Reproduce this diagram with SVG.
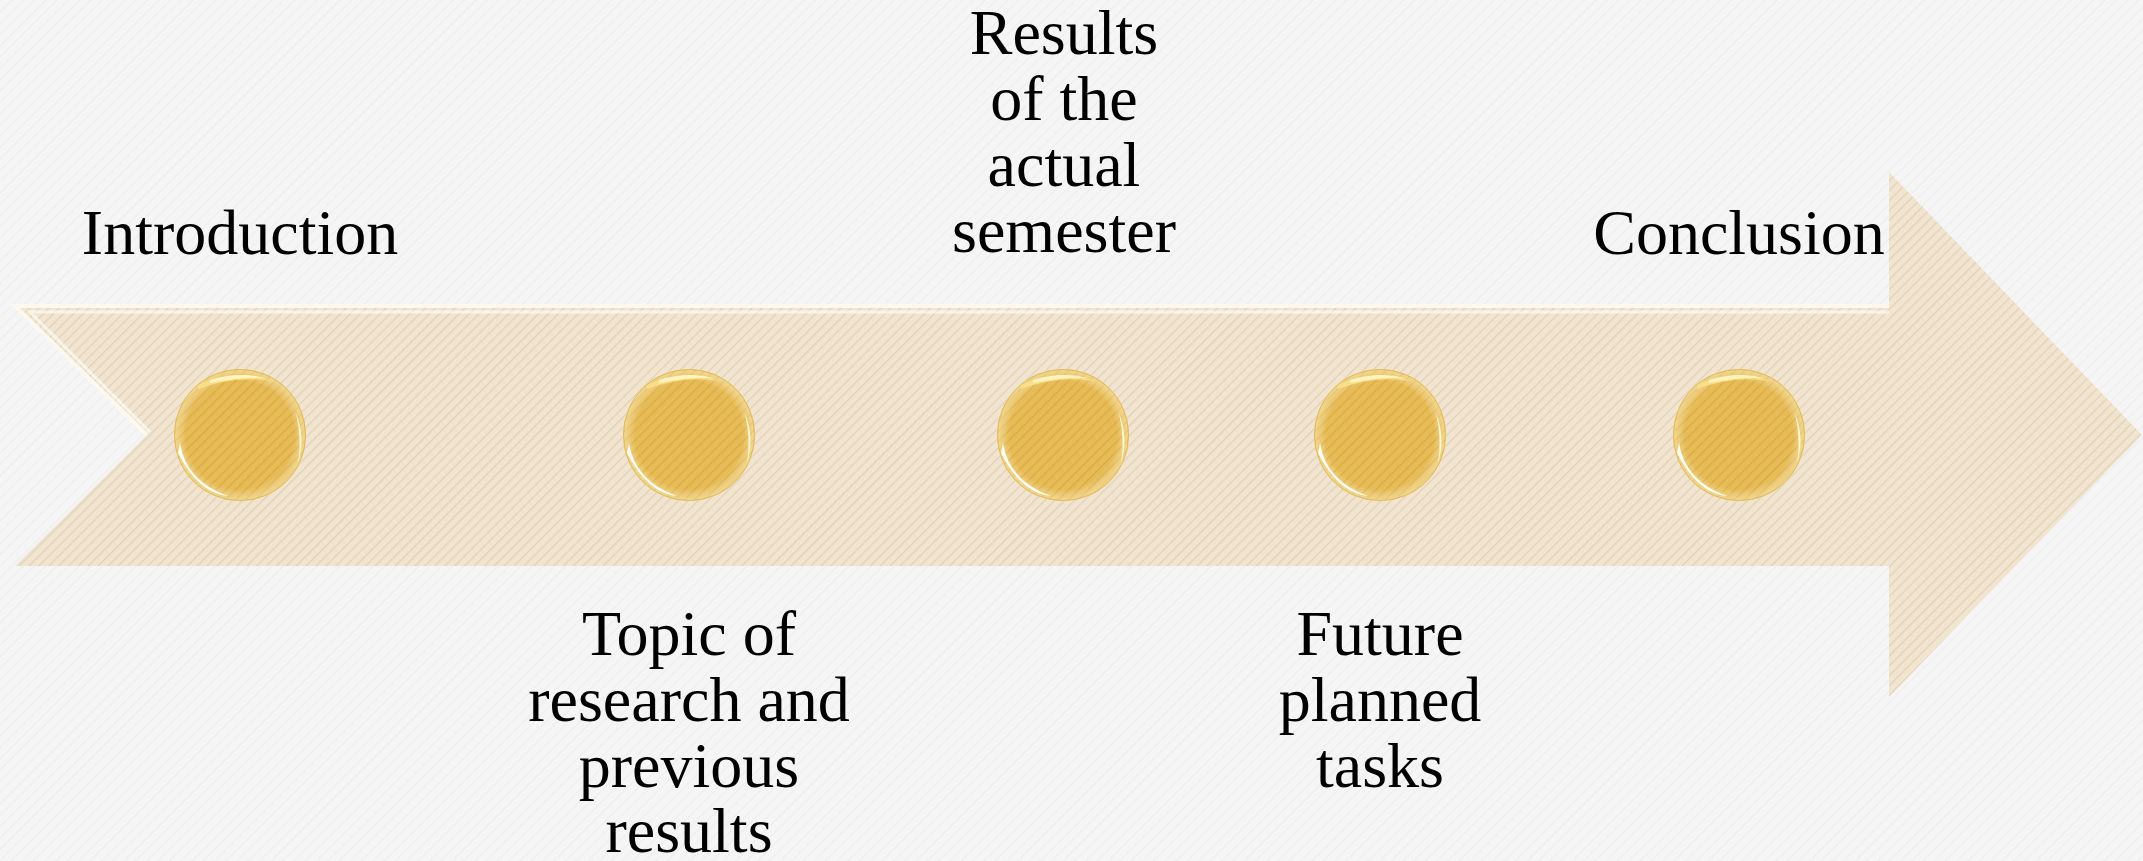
<svg xmlns="http://www.w3.org/2000/svg" width="2143" height="861" viewBox="0 0 2143 861">
<defs>
<pattern id="bgtex" width="8" height="8" patternUnits="userSpaceOnUse" patternTransform="rotate(45)">
<rect width="8" height="8" fill="#f5f5f5"/>
<line x1="0" y1="0" x2="0" y2="8" stroke="#ededed" stroke-width="2"/>
</pattern>
<pattern id="stripes" width="7" height="7" patternUnits="userSpaceOnUse" patternTransform="rotate(45)">
<rect width="7" height="7" fill="#f1e5d1"/>
<line x1="0" y1="0" x2="0" y2="7" stroke="#e2d0b1" stroke-width="2.5"/>
</pattern>
<pattern id="goldstripes" width="7" height="7" patternUnits="userSpaceOnUse" patternTransform="rotate(45)">
<rect width="7" height="7" fill="#e7bc56"/>
<line x1="0" y1="0" x2="0" y2="7" stroke="#d8a944" stroke-width="2.5"/>
</pattern>
<radialGradient id="shine" cx="0.5" cy="0.5" r="0.5">
<stop offset="0.82" stop-color="#ffffff" stop-opacity="0"/>
<stop offset="1" stop-color="#fff6c8" stop-opacity="0.5"/>
</radialGradient>
<g id="bead">
<circle r="66" fill="url(#goldstripes)"/>
<circle r="66" fill="url(#shine)"/>
<path d="M -42 -50 Q -5 -68 32 -54 Q -5 -60 -42 -46 Z" fill="#fbe08a" opacity="0.9"/>
<path d="M -30 -55 Q 0 -64 25 -57 Q 0 -58 -30 -52 Z" fill="#fff4c0"/>
<path d="M -60 8 Q -54 46 -12 61 Q -42 58 -62 18 Z" fill="#fffdf2"/>
<path d="M 56 -22 Q 66 4 58 28 Q 62 4 56 -22 Z" fill="#fff6cc"/>
<circle r="65.5" fill="none" stroke="#d6a640" stroke-width="1" opacity="0.6"/>
</g>
</defs>
<style>
.lbl { font-family: "Liberation Serif", "Times New Roman", serif; font-size: 64px; fill: #000000; text-anchor: middle; }
</style>
<rect width="2143" height="861" fill="url(#bgtex)"/>
<g id="arrow">
<polygon points="15,306 1889,306 1889,172 2142,435 1889,697 1889,566 15,566 147,435" fill="url(#stripes)"/>
<polyline points="147,435 15,306 1889,306" fill="none" stroke="#fcf8f0" stroke-width="4"/>
<polyline points="150,432 30,312 1889,312" fill="none" stroke="#ffffff" stroke-width="3" opacity="0.6"/>
</g>
<g id="connectors"></g>
<g id="node-introduction">
<use href="#bead" x="240" y="435"/>
<text class="lbl" x="240" y="254">Introduction</text>
</g>
<g id="node-topic">
<use href="#bead" x="689" y="435"/>
<text class="lbl" x="689" y="655">Topic of</text>
<text class="lbl" x="689" y="721">research and</text>
<text class="lbl" x="689" y="787">previous</text>
<text class="lbl" x="689" y="852">results</text>
</g>
<g id="node-results">
<use href="#bead" x="1063" y="435"/>
<text class="lbl" x="1064" y="54">Results</text>
<text class="lbl" x="1064" y="120">of the</text>
<text class="lbl" x="1064" y="186">actual</text>
<text class="lbl" x="1064" y="252">semester</text>
</g>
<g id="node-future">
<use href="#bead" x="1380" y="435"/>
<text class="lbl" x="1380" y="655">Future</text>
<text class="lbl" x="1380" y="721">planned</text>
<text class="lbl" x="1380" y="787">tasks</text>
</g>
<g id="node-conclusion">
<use href="#bead" x="1739" y="435"/>
<text class="lbl" x="1739" y="254">Conclusion</text>
</g>
</svg>
